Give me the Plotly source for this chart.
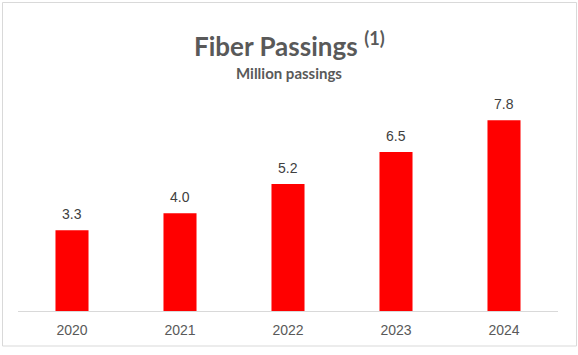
import plotly.graph_objects as go

years = ["2020", "2021", "2022", "2023", "2024"]
passings = [3.3, 4.0, 5.2, 6.5, 7.8]
labels = ["3.3", "4.0", "5.2", "6.5", "7.8"]

W, H = 578, 355
L, R, T, B = 18, 20, 91, 44
pw, ph = W - L - R, H - T - B

def px_x(x):
    return (x - L) / pw

def px_y(y):
    return (H - B - y) / ph

fig = go.Figure(go.Bar(
    x=years, y=passings,
    marker=dict(color="#ff0000", line=dict(width=0)),
    width=0.306, hoverinfo="x+y",
))

# category positions (index of each category on the axis)
value_annotations = [
    dict(x=i, y=v, text=lab, xref="x", yref="y", showarrow=False,
         yanchor="bottom", yshift=6,
         font=dict(family="Liberation Sans, Arial", size=14, color="#404040"))
    for i, (v, lab) in enumerate(zip(passings, labels))
]

fig.update_layout(
    width=W, height=H,
    margin=dict(l=L, r=R, t=T, b=B),
    paper_bgcolor="white", plot_bgcolor="white",
    showlegend=False,
    xaxis=dict(type="category", categoryorder="array", categoryarray=years,
               range=[-0.5, len(years) - 0.5],
               showline=True, linecolor="#d9d9d9", linewidth=1, ticks="",
               ticklabelstandoff=6,
               tickfont=dict(family="Liberation Sans, Arial", size=14, color="#595959"),
               showgrid=False),
    yaxis=dict(range=[0, 9], visible=False, showgrid=False),
    annotations=value_annotations + [
        dict(text="<b>Fiber Passings</b> <b><sup>(1)</sup></b>", xref="paper", yref="paper",
             x=px_x(289), y=px_y(44), xanchor="center", yanchor="middle", showarrow=False,
             font=dict(family="Lato", size=26, color="#595959")),
        dict(text="<b>Million passings</b>", xref="paper", yref="paper",
             x=px_x(289), y=px_y(73), xanchor="center", yanchor="middle", showarrow=False,
             font=dict(family="Lato", size=15, color="#595959")),
    ],
    shapes=[dict(type="rect", xref="paper", yref="paper",
                 x0=px_x(2.5), x1=px_x(576.5), y0=px_y(346), y1=px_y(2.5),
                 line=dict(color="#d9d9d9", width=1), layer="below")],
)

fig.write_html("out.html", config={"displayModeBar": False},
               post_script="document.body.style.margin='0';")
